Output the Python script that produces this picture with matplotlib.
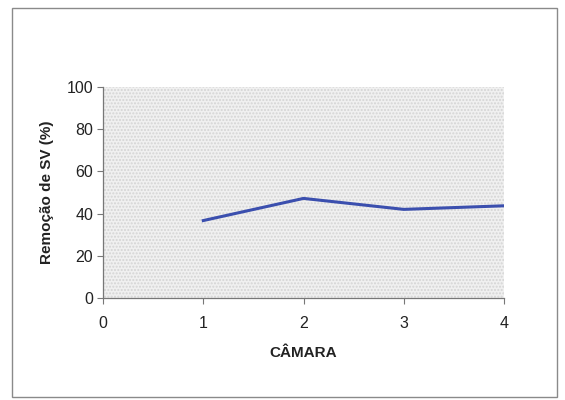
import matplotlib
matplotlib.use("Agg")
import matplotlib.pyplot as plt
from matplotlib.patches import Rectangle

camara = [1, 2, 3, 4]
remocao_sv = [36.7, 47.2, 42.0, 43.7]
x_ticks = [0, 1, 2, 3, 4]
y_ticks = [0, 20, 40, 60, 80, 100]

plt.rcParams['font.family'] = ['Liberation Sans', 'DejaVu Sans']

fig = plt.figure(figsize=(5.65, 4.0), dpi=100)
fig.patch.set_facecolor('white')

# outer chart border
fig.add_artist(Rectangle((12 / 565, 1 - 397 / 400), 545 / 565, 389 / 400,
                         transform=fig.transFigure, fill=False,
                         edgecolor='#8a8a8a', linewidth=1.0))

ax = fig.add_axes([103 / 565, 1 - 298 / 400, 401 / 565, 211 / 400])
ax.set_facecolor('#f0f0f0')
ax.add_patch(Rectangle((0, 0), 1, 1, transform=ax.transAxes, fill=False,
                       hatch='.....', edgecolor='#d4d4d4', linewidth=0, zorder=0))

ax.plot(camara, remocao_sv, color='#3b4fae', linewidth=2.2, zorder=3)

ax.set_xlim(0, 4)
ax.set_ylim(0, 100)
ax.set_xticks(x_ticks)
ax.set_yticks(y_ticks)
ax.tick_params(axis='both', direction='out', length=4, width=0.8,
               color='#777777', labelsize=11.5, labelcolor='#222222')
ax.tick_params(axis='x', pad=9)
ax.tick_params(axis='y', pad=3)

for side in ('top', 'right'):
    ax.spines[side].set_visible(False)
for side in ('left', 'bottom'):
    ax.spines[side].set_color('#777777')
    ax.spines[side].set_linewidth(0.9)

ax.set_xlabel('CÂMARA', fontsize=11, fontweight='bold', labelpad=11, color='#222222')
ax.set_ylabel('Remoção de SV (%)', fontsize=11, fontweight='bold', labelpad=9, color='#222222')

fig.savefig('out.png', dpi=100)
